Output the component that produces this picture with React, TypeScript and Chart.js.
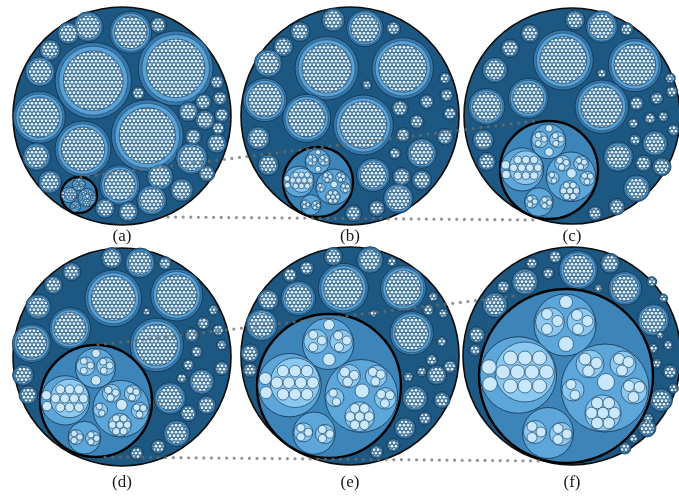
import React, { useEffect, useRef } from "react";
import { Chart, registerables } from "chart.js";

Chart.register(...registerables);

// ---------- DATA ----------
const panelLabels = ["(a)", "(b)", "(c)", "(d)", "(e)", "(f)"];
const panelX = [122, 350, 572, 122, 350, 572];
const panelY = [116, 116, 116, 357, 356, 356];
const panelR = [109, 109, 108, 109, 109, 109];
const labelY = [237, 237, 237, 483, 483, 483];

// focus (highlighted) node in each panel
const focusX = [79, 318, 549, 96, 329, 566];
const focusY = [195, 182, 170, 401, 386, 376];
const focusR = [18, 35, 49, 56, 72, 87];

// context nodes (first level) of each panel: [x, y, r]
const ctxA = [
  [93.3, 80.7, 38.3], [175.7, 68.3, 37.5], [147.3, 135.7, 36], [39.3, 117.3, 26], [83, 149, 28],
  [130.7, 32.3, 21], [119.7, 185, 20], [88.3, 26.7, 15], [68.3, 33.3, 11], [50, 50, 10.5],
  [40, 71.7, 15], [158.3, 25, 8.3], [191.7, 158.3, 16], [188.3, 111.7, 10], [203.3, 101.7, 8.3],
  [220, 98.3, 7.3], [217, 82, 7], [205, 120, 10], [221.7, 115, 7.3], [193.3, 136.7, 8.3],
  [216.7, 143.3, 10], [218.3, 128.3, 6.7], [36.7, 156.7, 14], [50, 181.7, 11.7], [160, 176.7, 13.3],
  [181.7, 190, 11.7], [151.7, 200, 15], [128.3, 211.7, 10], [105, 208.3, 10], [138.3, 93.3, 6.7],
  [206.7, 173.3, 8.3],
];
const ctxB = [
  [326.7, 68.3, 31.7], [402.7, 68.3, 30.7], [363.3, 125, 30], [306.7, 118.3, 24], [265, 100, 21.7],
  [365, 28.3, 18.3], [333.3, 20, 11.7], [300, 31.7, 10], [283.3, 46.7, 10], [268.3, 63.3, 14],
  [393.3, 28.3, 7.3], [373.3, 175, 16.7], [421.7, 153.3, 15], [398.3, 198.3, 15], [258.3, 138.3, 11.7],
  [268.3, 165, 10.7], [401.7, 176.7, 9.3], [421.7, 180, 10], [400, 108.3, 8.3], [416.7, 121.7, 7.3],
  [426.7, 101.7, 7.3], [446.7, 95, 6.7], [445, 78.3, 6], [450, 113.3, 6.7], [445, 136.7, 8.3],
  [403.3, 135, 7.3], [395, 153.3, 6], [376.7, 208.3, 8.3], [353.3, 213.3, 8.3], [366.7, 85, 5],
];
const ctxC = [
  [563.3, 60, 30], [635, 65, 26.7], [601.7, 106.7, 26.7], [528.3, 98.3, 20], [486.7, 106.7, 18.3],
  [601.7, 26.7, 16], [575, 20, 10], [530, 33.3, 9.3], [510, 48.3, 9.3], [495, 70, 12.7],
  [626.7, 29.3, 6.7], [618.3, 156.7, 15], [655, 143.3, 12.7], [636.7, 188.3, 13.3], [483.3, 140, 10.7],
  [486.7, 161.7, 9.3], [643.3, 163.3, 8.3], [661.7, 166.7, 9.3], [636.7, 103.3, 7.3], [650, 118.3, 6],
  [656.7, 98.3, 6.7], [671.7, 91.7, 6], [670, 78.3, 5.3], [663.3, 116.7, 5.3], [673.3, 130, 6],
  [635, 140, 6], [633.3, 123.3, 5.3], [616.7, 206.7, 8.3], [595, 213.3, 7.3], [601.7, 73.3, 5],
];
const ctxD = [
  [113.3, 298.3, 28.3], [176.7, 295, 26], [156.7, 345, 26.7], [70, 328.3, 20.7], [31.7, 343.3, 19.3],
  [140, 263, 15], [111.7, 258.3, 10.7], [71.7, 271.7, 9.3], [53.3, 285, 9.3], [38.3, 306.7, 12.7],
  [165, 263.3, 6.7], [170, 398.3, 16], [201.7, 381.7, 12.7], [176.7, 433.3, 13.3], [23.3, 375, 10.7],
  [28.3, 395, 9.3], [188.3, 413.3, 8.3], [206.7, 405, 9.3], [191.7, 335, 7.3], [196.7, 351.7, 6],
  [203.3, 323.3, 6.7], [218.3, 330, 6], [213.3, 310, 5.3], [221.7, 345, 5.3], [221.7, 368.3, 7.3],
  [188.3, 365, 6], [181.7, 378.3, 5.3], [158.3, 446.7, 7.3], [136.7, 453.3, 6.7], [146.7, 311.7, 4],
];
const ctxE = [
  [343.3, 288.3, 25], [403.3, 288.3, 22.7], [411.7, 333.3, 21.7], [298.3, 298.3, 17.3], [261.7, 325, 16],
  [370, 260, 13.3], [333.3, 256.7, 9.3], [306.7, 268.3, 7.3], [290, 275, 7.3], [268.3, 300, 10.7],
  [391.7, 261.7, 5], [415, 398.3, 12.7], [436.7, 375, 10], [405, 428.3, 10.7], [250, 353.3, 9.3],
  [250, 370, 7.3], [425, 418.3, 6.7], [441.7, 400, 8.3], [431.7, 360, 6], [441.7, 341.7, 5],
  [428.3, 310, 6], [443.3, 313.3, 5], [433.3, 296.7, 5], [450, 366.7, 6.7], [421.7, 371.7, 5],
  [408.3, 376.7, 5], [393.3, 445, 6.7], [376.7, 451.7, 6.7], [373.3, 313.3, 4],
];
const ctxF = [
  [578.3, 270, 19.3], [625, 288.3, 16.7], [653.3, 320, 16], [525, 281.7, 13.3], [495, 305, 12.7],
  [610, 263.3, 10], [555, 256.7, 6.7], [531.7, 263.3, 6], [503.3, 286.7, 6.7], [476.7, 335, 8.3],
  [475, 350, 6], [548.3, 273.3, 6], [661, 400, 11.5], [670, 371.7, 7.3], [647, 428, 9],
  [625, 448, 6], [633.3, 438.3, 5], [653.3, 348.3, 5], [668.3, 345, 5], [660, 335, 4],
  [651.7, 281.7, 5], [663.3, 298.3, 4.3], [673.3, 388.3, 5], [656.7, 363.3, 5], [598.3, 288.3, 4.3],
  [648.3, 418.3, 5],
];

// structure of the focus node, as read in panel (f) (centre 566,376, radius 87)
const focusRef = [566, 376, 87];
const focusGroups = [
  [565, 325, 31], [518.3, 375, 38.3], [605, 388, 44], [548, 433, 25.5],
];
const focusSubgroups = [
  [550, 322, 14.5], [581, 322, 14],
  [525, 372, 30],
  [590, 364, 14], [623, 364, 13], [573, 390, 11], [634, 391, 13], [603, 413, 18],
  [535, 432, 11.5], [561, 434, 11.5],
];
const focusLeaves = [
  // top group
  [566, 302, 6.5], [566, 344, 7.5], [547, 314, 5.5], [557.5, 321, 5.5], [547, 329, 5.5],
  [577, 315, 5.5], [587.5, 321, 5.5], [578, 329, 5.5],
  // left group
  [510.5, 358, 7], [525, 358, 7], [539.5, 358, 7], [503, 372, 7], [517.5, 372, 7], [532, 372, 7],
  [546.5, 372, 7], [510.5, 386, 7], [525, 386, 7], [539.5, 386, 7], [489, 367, 7.3], [490, 384, 7.3],
  // right group
  [606, 382, 8.5], [585, 359, 6], [596.5, 363, 5.8], [588.5, 371, 5.8],
  [619, 359, 5.5], [628.5, 362, 5.5], [622, 370.5, 5.5],
  [571, 384.5, 5], [575, 395, 5],
  [629, 386, 5.5], [639.5, 387, 5.5], [633.5, 397, 5.5],
  [614.5, 413, 5.8], [608.8, 423, 5.8], [597.2, 423, 5.8], [591.5, 413, 5.8], [597.2, 403, 5.8],
  [608.8, 403, 5.8], [603, 413, 5.7],
  // bottom group
  [532, 426.5, 5], [541, 432, 5], [532, 437.5, 5], [558, 428.5, 5], [567, 434, 5], [558, 439.5, 5],
];

// dotted connector lines [x1, y1, x2, y2]
const connectors = [
  [81, 177, 535, 121],
  [168, 217, 540, 220],
  [98, 345, 515, 296],
  [105, 457, 545, 461],
];

// ---------- helpers ----------
const toPts = (list: number[][], k = 1) => list.map(([x, y, r]) => ({ x, y, r: r * k }));

function placeFocus(list: number[][]) {
  const out: { x: number; y: number; r: number }[] = [];
  for (let i = 0; i < focusX.length; i++) {
    const k = focusR[i] / focusRef[2];
    list.forEach(([x, y, r]) => {
      out.push({
        x: focusX[i] + (x - focusRef[0]) * k,
        y: focusY[i] + (y - focusRef[1]) * k,
        r: r * k,
      });
    });
  }
  return out;
}

// texture for densely packed leaf nodes (too small to read one by one)
function makeFoam(): CanvasPattern | string {
  const c = document.createElement("canvas");
  c.width = 4;
  c.height = 7;
  const g = c.getContext("2d");
  if (!g) return "#9cc6e4";
  g.fillStyle = "#5a94c2";
  g.fillRect(0, 0, 4, 7);
  const dots = [
    [2, 1.75], [0, 5.25], [4, 5.25],
  ];
  dots.forEach(([x, y]) => {
    g.fillStyle = "#2e5a7e";
    g.beginPath();
    g.arc(x, y, 2, 0, Math.PI * 2);
    g.fill();
    g.fillStyle = "#dff2fd";
    g.beginPath();
    g.arc(x, y, 1.45, 0, Math.PI * 2);
    g.fill();
  });
  return g.createPattern(c, "repeat") || "#9cc6e4";
}

const labelPlugin = {
  id: "panelLabels",
  afterDatasetsDraw(chart: any) {
    const { ctx, scales } = chart;
    ctx.save();
    ctx.font = '17px "Liberation Serif", "DejaVu Serif", serif';
    ctx.fillStyle = "#1a1a1a";
    ctx.textAlign = "center";
    ctx.textBaseline = "middle";
    panelLabels.forEach((t, i) => {
      ctx.fillText(t, scales.x.getPixelForValue(panelX[i]), scales.y.getPixelForValue(labelY[i]));
    });
    ctx.restore();
  },
};

export default function App() {
  const ref = useRef<HTMLCanvasElement>(null);

  useEffect(() => {
    if (!ref.current) return;
    const foam = makeFoam();
    const allCtx = [ctxA, ctxB, ctxC, ctxD, ctxE, ctxF].flat();
    const outer = panelX.map((x, i) => ({ x, y: panelY[i], r: panelR[i] }));
    const focus = focusX.map((x, i) => ({ x, y: focusY[i], r: focusR[i] }));

    const bubble = (data: any[], bg: any, border: string, bw: number, order: number) => ({
      type: "bubble" as const,
      data,
      backgroundColor: bg,
      borderColor: border,
      borderWidth: bw,
      order,
    });

    const lines = connectors.map(([x1, y1, x2, y2]) => ({
      type: "line" as const,
      data: [
        { x: x1, y: y1 },
        { x: x2, y: y2 },
      ],
      borderColor: "rgba(110,110,110,0.75)",
      borderWidth: 3.2,
      borderDash: [0, 7.6],
      borderCapStyle: "round" as const,
      pointRadius: 0,
      fill: false,
      tension: 0,
      order: 1,
    }));

    const chart = new Chart(ref.current, {
      type: "bubble",
      data: {
        datasets: [
          bubble(outer, "#1d5882", "#0d0d0d", 1.6, 20),
          bubble(toPts(allCtx), "#3779ad", "#12314c", 0.8, 19),
          bubble(toPts(allCtx, 0.9), "#5aa2d6", "#1a4466", 0.6, 18),
          bubble(toPts(allCtx, 0.78), foam, "#163a58", 0.6, 17),
          bubble(focus, "#3d84b9", "#000000", 2.4, 16),
          bubble(placeFocus(focusGroups), "#5ca6da", "#14324d", 0.8, 15),
          bubble(placeFocus(focusSubgroups), "#8bc8ef", "#1b3d5c", 0.7, 14),
          bubble(placeFocus(focusLeaves), "#c9e8fb", "#22476a", 0.7, 13),
          ...lines,
        ] as any,
      },
      options: {
        responsive: false,
        animation: false,
        events: [],
        layout: { padding: 0, autoPadding: false },
        plugins: { legend: { display: false }, tooltip: { enabled: false } },
        scales: {
          x: { type: "linear", min: 0, max: 679, display: false },
          y: { type: "linear", min: 0, max: 497, reverse: true, display: false },
        },
      },
      plugins: [labelPlugin],
    });
    return () => chart.destroy();
  }, []);

  return (
    <div style={{ position: "absolute", left: 0, top: 0, width: 679, height: 497, background: "#fff" }}>
      <canvas ref={ref} width={679} height={497} style={{ width: 679, height: 497, display: "block" }} />
    </div>
  );
}
